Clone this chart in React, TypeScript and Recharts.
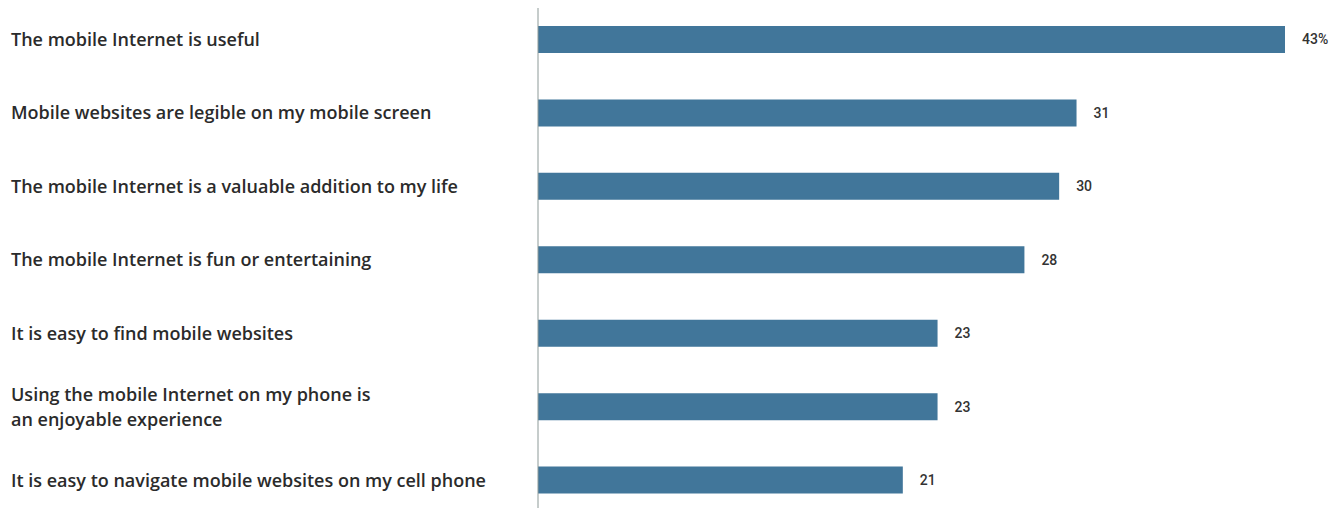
import React from 'react';
import { BarChart, Bar, XAxis, YAxis, LabelList } from 'recharts';

const statements = [
  'The mobile Internet is useful',
  'Mobile websites are legible on my mobile screen',
  'The mobile Internet is a valuable addition to my life',
  'The mobile Internet is fun or entertaining',
  'It is easy to find mobile websites',
  'Using the mobile Internet on my phone is\nan enjoyable experience',
  'It is easy to navigate mobile websites on my cell phone',
];
const shares = [43, 31, 30, 28, 23, 23, 21];

const data = statements.map((s, i) => ({ statement: s, share: shares[i] }));

const LeftTick = (props: any) => {
  const { y, payload } = props;
  const lines: string[] = String(payload.value).split('\n');
  const lineH = 25;
  const startY = y - ((lines.length - 1) * lineH) / 2;
  return (
    <text
      x={11}
      y={startY}
      textAnchor="start"
      fill="#2b2b2b"
      fontFamily="'Open Sans', sans-serif"
      fontWeight={600}
      fontSize={18}
    >
      {lines.map((l, i) => (
        <tspan key={i} x={11} dy={i === 0 ? '0.35em' : lineH}>
          {l}
        </tspan>
      ))}
    </text>
  );
};

export default function App() {
  return (
    <div style={{ position: 'absolute', left: 0, top: 0, background: '#fff' }}>
      <BarChart
        width={1340}
        height={508}
        data={data}
        layout="vertical"
        margin={{ top: 8, right: 55, bottom: 0, left: 0 }}
      >
        <XAxis type="number" domain={[0, 43]} hide />
        <YAxis
          type="category"
          dataKey="statement"
          width={538}
          axisLine={{ stroke: '#8d9a98', strokeWidth: 1 }}
          tickLine={false}
          tick={<LeftTick />}
          padding={{ top: -5, bottom: -9 }}
          interval={0}
        />
        <Bar dataKey="share" fill="#41769a" barSize={27} isAnimationActive={false}>
          <LabelList
            dataKey="share"
            position="right"
            offset={17}
            formatter={(v: any) => (v === 43 ? `${v}%` : `${v}`)}
            style={{ fill: '#333', fontFamily: "Roboto, 'Liberation Sans', sans-serif", fontWeight: 500, fontSize: 14 }}
          />
        </Bar>
      </BarChart>
    </div>
  );
}
